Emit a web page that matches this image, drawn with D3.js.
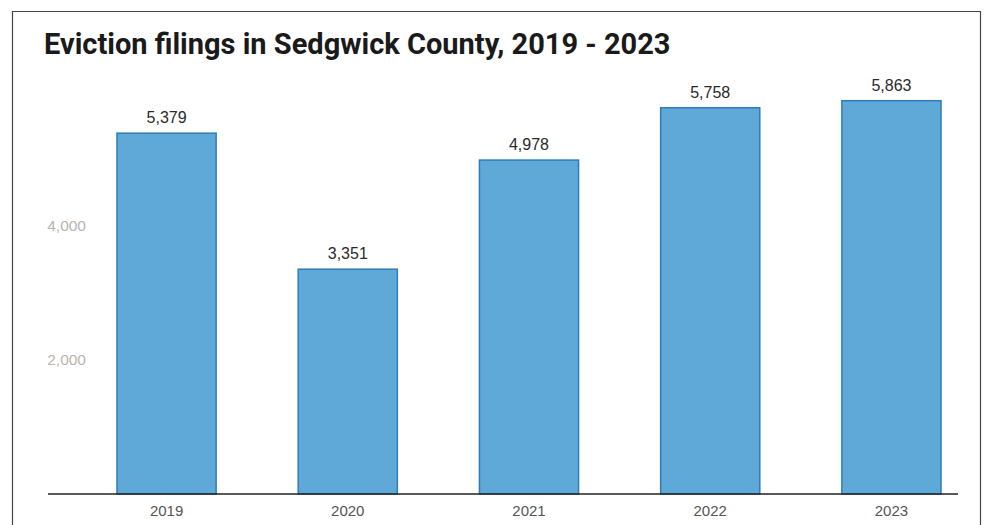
<!DOCTYPE html>
<html lang="en">
<head>
    <meta charset="UTF-8">
    <title>Eviction filings</title>
    <script src="https://d3js.org/d3.v7.min.js"></script>
    <style>
        body { margin: 0; background: #fff; }
    </style>
</head>
<body>
<script>
    const width = 987;
    const height = 525;

    const years = ["2019", "2020", "2021", "2022", "2023"];
    const filings = [5379, 3351, 4978, 5758, 5863];
    const yTicks = [2000, 4000];

    const svg = d3.select("body").append("svg")
            .attr("width", width).attr("height", height);

    // frame round the graphic
    svg.append("path")
            .attr("d", "M12.5,525 V11.5 H980.5 V525")
            .style("fill", "none")
            .style("stroke", "#444")
            .style("stroke-width", 1.2);

    svg.append("text")
            .attr("x", 44).attr("y", 54)
            .style("font-family", "Roboto, sans-serif")
            .style("font-weight", "bold")
            .style("font-size", "29px")
            .style("fill", "#1a1a1a")
            .text("Eviction filings in Sedgwick County, 2019 - 2023");

    const x = d3.scaleBand()
            .domain(years)
            .range([117, 941])
            .paddingInner(0.453)
            .paddingOuter(0);

    const y = d3.scaleLinear()
            .domain([0, 6000])
            .range([494, 91.5]);

    // y tick labels only, no grid
    svg.append("g")
            .attr("transform", "translate(86,0)")
            .call(d3.axisLeft(y).tickValues(yTicks).tickSize(0).tickPadding(0).tickFormat(d3.format(",")))
            .call(g => g.select(".domain").remove())
            .selectAll("text")
            .style("font-family", "'Liberation Sans', Arial, sans-serif")
            .style("font-size", "15.5px")
            .style("fill", "#bab3af");

    svg.selectAll("rect.bar")
            .data(filings)
            .enter()
            .append("rect")
            .attr("class", "bar")
            .attr("x", (d, i) => x(years[i]))
            .attr("y", d => y(d))
            .attr("width", x.bandwidth())
            .attr("height", d => y(0) - y(d))
            .style("fill", "#5ea9d7")
            .style("stroke", "#2f7cb8")
            .style("stroke-width", 1.5);

    svg.selectAll("text.value")
            .data(filings)
            .enter()
            .append("text")
            .attr("class", "value")
            .attr("x", (d, i) => x(years[i]) + x.bandwidth() / 2)
            .attr("y", d => y(d) - 10)
            .attr("text-anchor", "middle")
            .style("font-family", "'Liberation Sans', Arial, sans-serif")
            .style("font-size", "16px")
            .style("fill", "#2a2a2a")
            .text(d3.format(","));

    // baseline
    svg.append("line")
            .attr("x1", 48).attr("x2", 958)
            .attr("y1", y(0)).attr("y2", y(0))
            .style("stroke", "#222")
            .style("stroke-width", 1.5);

    svg.append("g")
            .attr("transform", `translate(0,${y(0)})`)
            .call(d3.axisBottom(x).tickSize(0).tickPadding(11))
            .call(g => g.select(".domain").remove())
            .selectAll("text")
            .style("font-family", "'Liberation Sans', Arial, sans-serif")
            .style("font-size", "15px")
            .style("fill", "#555");
</script>

</body>
</html>
